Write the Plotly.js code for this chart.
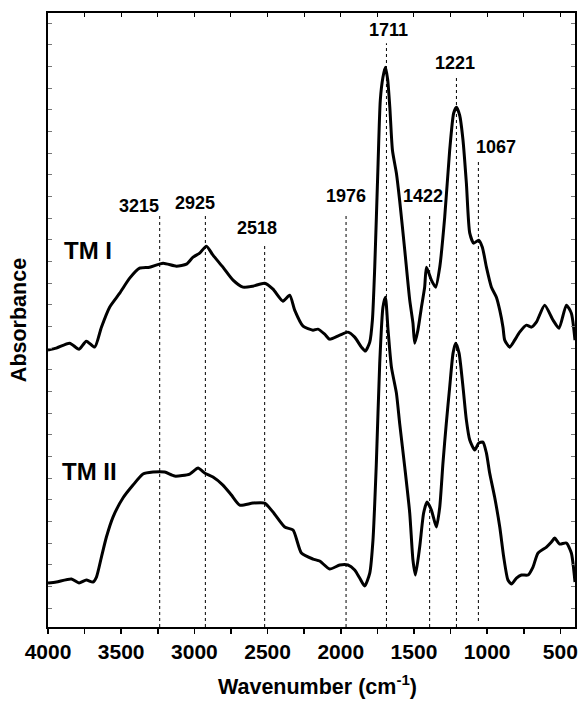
<!DOCTYPE html>
<html><head><meta charset="utf-8">
<script src="https://cdn.plot.ly/plotly-3.0.1.min.js"></script>
<style>html,body{margin:0;padding:0;background:#fff}#chart{width:582px;height:702px}</style>
</head><body><div id="chart"></div>
<script>
// ---- data ----
const tm1Wavenumber = [4000,3943,3852,3788,3738,3681,3635,3579,3510,3442,3374,3306,3214,3123,3054,3009,2964,2918,2873,2805,2736,2668,2600,2520,2463,2395,2349,2315,2258,2190,2156,2110,2076,2007,1951,1905,1859,1832,1802,1784,1768,1746,1730,1712,1695,1680,1665,1647,1620,1598,1563,1529,1507,1495,1473,1449,1427,1415,1381,1352,1324,1290,1256,1229,1210,1188,1165,1142,1119,1092,1058,1033,1005,971,937,914,892,880,846,812,778,732,698,664,607,550,509,459,425,400];
const tm1Absorbance = [2.77,2.79,2.84,2.78,2.86,2.80,3.00,3.20,3.34,3.49,3.59,3.60,3.64,3.61,3.63,3.70,3.74,3.81,3.72,3.60,3.47,3.40,3.41,3.44,3.38,3.26,3.32,3.17,3.01,2.97,2.98,2.93,2.88,2.92,2.95,2.90,2.80,2.76,2.85,3.07,3.60,4.60,5.27,5.50,5.60,5.48,5.20,4.77,4.54,4.27,3.77,3.27,3.04,2.84,2.97,3.20,3.40,3.60,3.47,3.40,3.60,4.10,4.77,5.14,5.20,5.12,4.87,4.44,3.94,3.84,3.87,3.80,3.60,3.40,3.30,3.17,3.00,2.87,2.80,2.87,2.95,3.02,3.00,3.05,3.22,3.07,2.99,3.22,3.14,2.87];
const tm2Wavenumber = [4000,3943,3840,3788,3738,3693,3669,3635,3601,3556,3488,3419,3351,3283,3203,3135,3032,2975,2930,2873,2805,2747,2690,2600,2520,2463,2383,2326,2269,2190,2144,2076,2007,1951,1905,1871,1837,1802,1780,1757,1734,1712,1695,1677,1654,1620,1598,1563,1529,1507,1490,1461,1434,1411,1381,1347,1324,1302,1279,1256,1233,1215,1192,1165,1142,1119,1085,1058,1029,1005,983,949,914,887,858,834,800,766,721,687,653,595,561,539,505,459,425,400];
const tm2Absorbance = [0.44,0.45,0.48,0.44,0.47,0.45,0.50,0.70,0.90,1.10,1.29,1.42,1.53,1.55,1.55,1.51,1.53,1.59,1.54,1.50,1.42,1.32,1.22,1.24,1.24,1.15,1.00,0.97,0.74,0.68,0.66,0.58,0.62,0.62,0.57,0.49,0.41,0.54,0.87,1.64,2.64,3.20,3.30,2.97,2.60,2.34,2.04,1.60,1.14,0.67,0.52,0.80,1.14,1.25,1.17,1.00,1.20,1.64,2.04,2.40,2.74,2.84,2.74,2.40,2.07,1.87,1.77,1.84,1.85,1.74,1.54,1.30,1.00,0.70,0.47,0.43,0.49,0.52,0.52,0.60,0.74,0.80,0.85,0.89,0.83,0.84,0.74,0.45];
const seriesNames = ['TM I', 'TM II'];
const peakLabels = ['3215','2925','2518','1976','1711','1422','1221','1067'];
const peakLinePos = [3237,2925,2520,1964,1688,1393,1210,1060];
const peakLineTop = [4.12,4.14,3.84,4.14,5.84,4.14,5.50,4.66];
const peakLineBottom = [0,0,0,0,0,0,0,0.06];
const peakLabelPos = [3376,2996,2572,1964,1671,1436,1222,940];
const peakLabelY = [4.09,4.12,3.87,4.19,5.85,4.19,5.52,4.68];
const seriesLabelPos = [[3902, 3.77], [3915, 1.56]];

// ---- drawing ----
const FONT = 'Liberation Sans, Arial, sans-serif';
const lx = [], ly = [];
peakLinePos.forEach((p, i) => { lx.push(p, p, null); ly.push(peakLineBottom[i], peakLineTop[i], null); });

const traces = [
  {x: lx, y: ly, mode: 'lines', line: {color: '#000', width: 1, dash: 'dot'}, hoverinfo: 'skip', showlegend: false},
  {x: tm1Wavenumber, y: tm1Absorbance, name: seriesNames[0], mode: 'lines', line: {color: '#000', width: 3, shape: 'spline', smoothing: 0.6}, showlegend: false},
  {x: tm2Wavenumber, y: tm2Absorbance, name: seriesNames[1], mode: 'lines', line: {color: '#000', width: 3, shape: 'spline', smoothing: 0.6}, showlegend: false},
  {x: [4000], y: [0], xaxis: 'x2', yaxis: 'y2', mode: 'markers', marker: {opacity: 0}, hoverinfo: 'skip', showlegend: false}
];

const annotations = peakLabels.map((t, i) => ({
  x: peakLabelPos[i], y: peakLabelY[i], xref: 'x', yref: 'y', text: t, showarrow: false,
  xanchor: 'center', yanchor: 'bottom', font: {family: FONT, size: 18, color: '#000', weight: 'bold'}
}));
seriesNames.forEach((n, i) => annotations.push({
  x: seriesLabelPos[i][0], y: seriesLabelPos[i][1], xref: 'x', yref: 'y', text: n, showarrow: false,
  xanchor: 'left', yanchor: 'middle', font: {family: FONT, size: 24, color: '#000', weight: 'bold'}
}));

const layout = {
  width: 582, height: 702,
  margin: {l: 48, r: 7, t: 13, b: 75},
  paper_bgcolor: '#fff', plot_bgcolor: '#fff',
  showlegend: false,
  font: {family: FONT, color: '#000'},
  xaxis: {
    range: [4000, 400], showgrid: false, zeroline: false,
    showline: true, linecolor: '#000', linewidth: 2, mirror: true,
    ticks: 'outside', ticklen: 5, tickwidth: 1.5, tickcolor: '#000',
    tick0: 0, dtick: 500,
    minor: {ticks: 'outside', ticklen: 5, tickwidth: 1.5, tickcolor: '#000', dtick: 250, tick0: 0},
    tickfont: {family: FONT, size: 21, color: '#000', weight: 'bold'},
    title: {text: '&nbsp;&nbsp;Wavenumber (cm<sup>-1</sup>)', font: {family: FONT, size: 21.5, color: '#000', weight: 'bold'}, standoff: 17}
  },
  xaxis2: {
    overlaying: 'x', side: 'top', matches: 'x', range: [4000, 400], showgrid: false, zeroline: false,
    showticklabels: false, ticks: 'inside', ticklen: 4, tickwidth: 1, tickcolor: '#000',
    tick0: 0, dtick: 250, anchor: 'y'
  },
  yaxis: {
    range: [0, 6.143], showgrid: false, zeroline: false,
    showline: true, linecolor: '#000', linewidth: 2, mirror: true,
    showticklabels: false, ticks: 'inside', ticklen: 4, tickwidth: 1, tickcolor: '#777',
    tick0: 0.19, dtick: 0.2167,
    title: {text: 'Absorbance', font: {family: FONT, size: 21.5, color: '#000', weight: 'bold'}, standoff: 13}
  },
  yaxis2: {
    overlaying: 'y', side: 'right', matches: 'y', range: [0, 6.143], showgrid: false, zeroline: false,
    showticklabels: false, ticks: 'inside', ticklen: 4, tickwidth: 1, tickcolor: '#777',
    tick0: 0.19, dtick: 0.2167, anchor: 'x'
  },
  annotations: annotations
};

Plotly.newPlot('chart', traces, layout, {staticPlot: true, displayModeBar: false});
</script>
</body></html>
